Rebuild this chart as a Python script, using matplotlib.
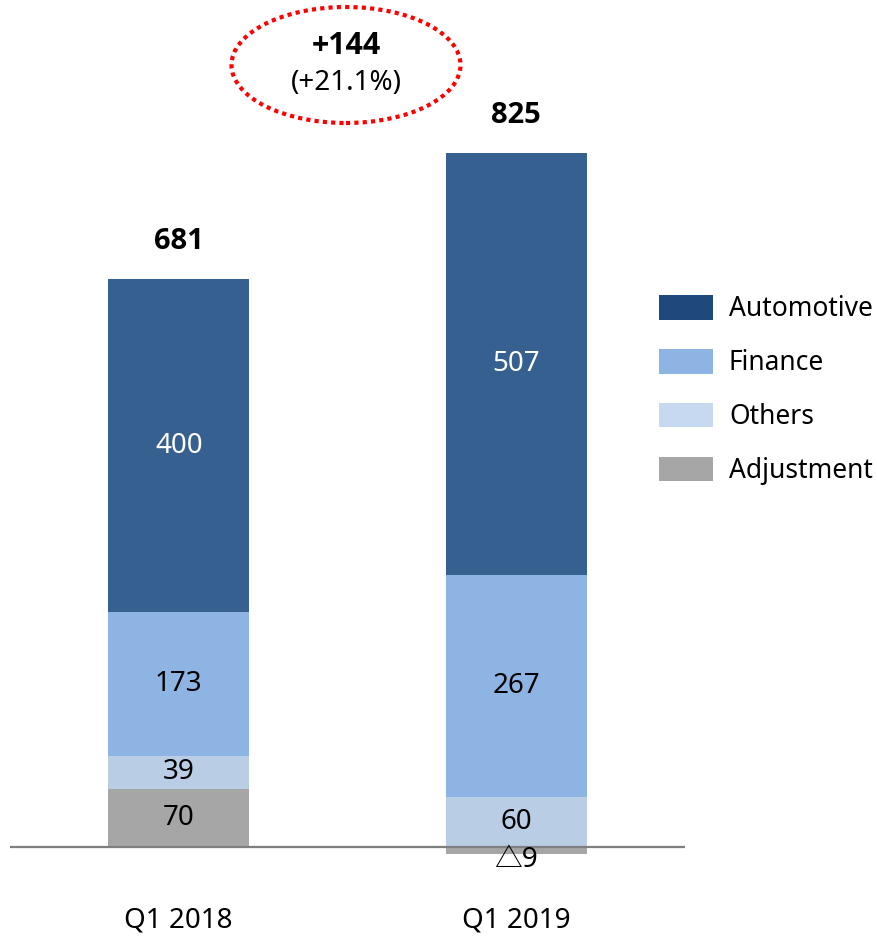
import matplotlib
matplotlib.use("Agg")
import matplotlib.pyplot as plt
from matplotlib.patches import Patch, Ellipse
import numpy as np

plt.rcParams['font.family'] = ['Noto Sans', 'Noto Sans CJK JP', 'DejaVu Sans']
bold_family = ['Open Sans', 'DejaVu Sans']

# Operating income breakdown by segment
quarters = ["Q1 2018", "Q1 2019"]
segments = ["Adjustment", "Others", "Finance", "Automotive"]
adjustment = [70, -9]
others = [39, 60]
finance = [173, 267]
automotive = [400, 507]
totals = [681, 825]
segment_labels = [["70", "△9"], ["39", "60"], ["173", "267"], ["400", "507"]]
change_abs = "+144"
change_pct = "(+21.1%)"

bar_colors = {"Adjustment": "#A6A6A6", "Others": "#B9CDE5",
              "Finance": "#8EB4E3", "Automotive": "#36608F"}
legend_colors = {"Automotive": "#1F497D", "Finance": "#8EB4E3",
                 "Others": "#C6D9F1", "Adjustment": "#A6A6A6"}
label_colors = {"Adjustment": "black", "Others": "black",
                "Finance": "black", "Automotive": "white"}

W, H = 878, 940
fig = plt.figure(figsize=(W / 100, H / 100), dpi=100)

# axes placed in pixel terms: x from 10 to 685, y from 20 to 895 (top-down)
ax_left, ax_right, ax_top, ax_bot = 10, 685, 20, 895
ax = fig.add_axes([ax_left / W, 1 - ax_bot / H, (ax_right - ax_left) / W, (ax_bot - ax_top) / H])

px_per_unit = 0.8325
baseline_px = 847
ymin = -(ax_bot - baseline_px) / px_per_unit
ymax = (baseline_px - ax_top) / px_per_unit
ax.set_ylim(ymin, ymax)
ax.set_xlim(-0.5, 1.5)

x = np.arange(len(quarters))
width = 0.418
series = {"Adjustment": adjustment, "Others": others, "Finance": finance, "Automotive": automotive}

fs = 20
pos_base = np.zeros(len(quarters))
neg_base = np.zeros(len(quarters))
for si, seg in enumerate(segments):
    vals = np.array(series[seg], dtype=float)
    bottoms = np.where(vals >= 0, pos_base, neg_base)
    ax.bar(x, vals, width, bottom=bottoms, color=bar_colors[seg], edgecolor="none", zorder=2)
    for i, v in enumerate(vals):
        lab = segment_labels[si][i]
        if v >= 0:
            ax.text(x[i], bottoms[i] + v / 2, lab, ha="center", va="center",
                    fontsize=fs, color=label_colors[seg], zorder=4)
        else:
            ax.annotate(lab, (x[i], 0), xytext=(0, 1), textcoords="offset points",
                        ha="center", va="top", fontsize=fs, color="black", zorder=4)
    pos_base = np.where(vals >= 0, pos_base + vals, pos_base)
    neg_base = np.where(vals < 0, neg_base + vals, neg_base)

# totals above each stack
for i, t in enumerate(totals):
    ax.annotate(str(t), (x[i], pos_base[i]), xytext=(0, 27), textcoords="offset points",
                ha="center", va="center", fontsize=21, fontweight="bold",
                family=bold_family, color="black")

ax.axhline(0, color="#7F7F7F", lw=1.6, zorder=3)

for s in ax.spines.values():
    s.set_visible(False)
ax.set_yticks([])
ax.set_xticks(x)
ax.set_xticklabels(quarters, fontsize=fs)
ax.tick_params(axis="x", length=0, pad=8)

# change callout
ex, ey = 346, 65
ell = Ellipse((ex / W, 1 - ey / H), 229 / W, 116 / H, transform=fig.transFigure,
              fill=False, edgecolor="#FF0000", lw=3, linestyle=(0, (1, 1)))
fig.add_artist(ell)
fig.text(346 / W, 1 - 46 / H, change_abs, ha="center", va="center", fontsize=22,
         fontweight="bold", family=bold_family)
fig.text(346 / W, 1 - 83 / H, change_pct, ha="center", va="center", fontsize=fs)

lfs = 19
handles = [Patch(facecolor=legend_colors[s], edgecolor="none", label=s)
           for s in ["Automotive", "Finance", "Others", "Adjustment"]]
fig.legend(handles=handles, loc="upper left", bbox_to_anchor=(659 / W, 1 - 295 / H),
           frameon=False, fontsize=lfs, handlelength=2.05, handleheight=1.06,
           labelspacing=0.97, handletextpad=0.6, borderaxespad=0, borderpad=0)

fig.savefig("out.png", dpi=100)
